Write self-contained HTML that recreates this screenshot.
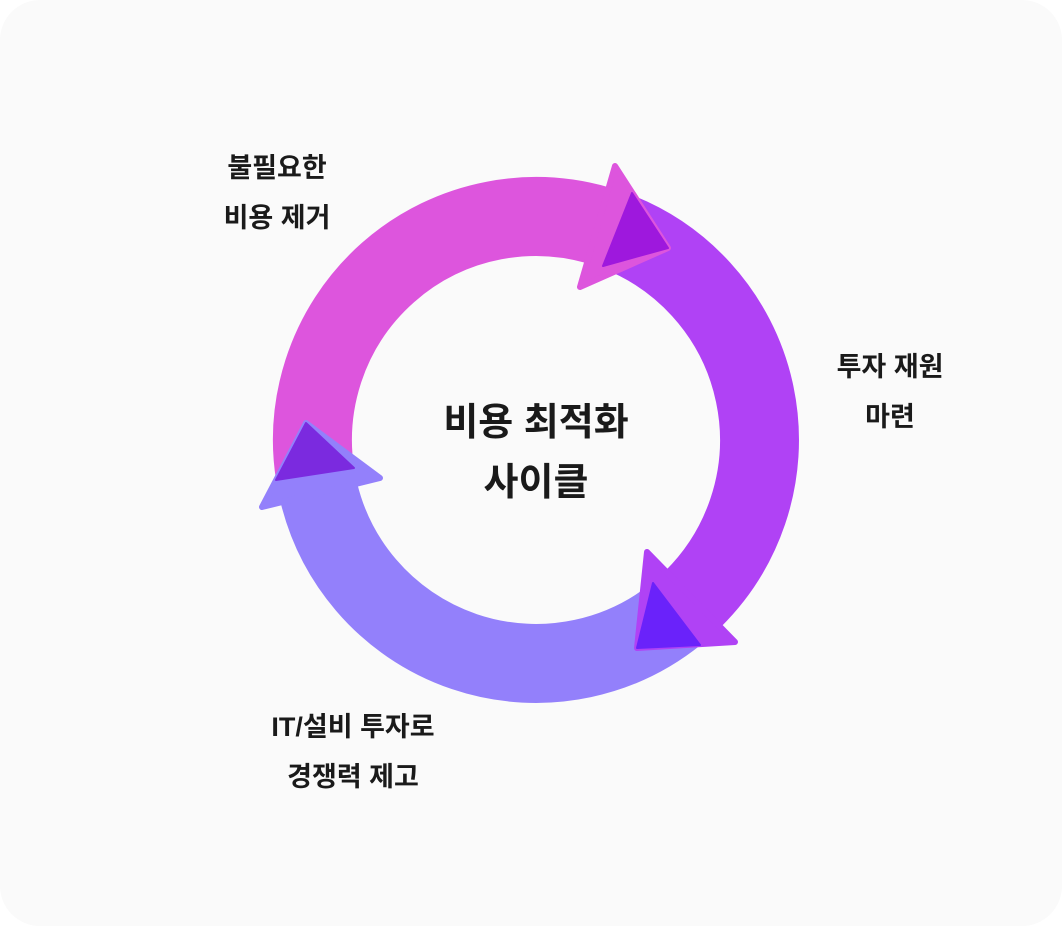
<!DOCTYPE html>
<html><head><meta charset="utf-8"><style>
html,body{margin:0;padding:0;background:#fff;}
.wrap{position:relative;width:1062px;height:926px;background:#fafafa;border-radius:40px;overflow:hidden;}
.t{position:absolute;font-family:"Liberation Sans","Noto Sans CJK KR",sans-serif;color:#1a1a1a;text-align:center;font-weight:700;}
.s{font-size:27px;line-height:50px;width:300px;}
.c{font-size:38px;line-height:60px;width:400px;}
svg{position:absolute;left:0;top:0;}
</style></head><body><div class="wrap">
<svg width="1062" height="926" viewBox="0 0 1062 926">
<g fill="none" stroke-width="79">
<path d="M315.2 475.0 A223.5 223.5 0 0 1 597.6 225.2" stroke="#dd55dd"/>
<path d="M616.1 231.3 A223.5 223.5 0 0 1 692.9 599.1" stroke="#b042f5"/>
<path d="M676.6 613.7 A223.5 223.5 0 0 1 318.8 492.5" stroke="#9380fb"/>
</g>
<g stroke-linejoin="round" stroke-width="6">
<polygon points="615,166 668,248 580,287" fill="#dd55dd" stroke="#dd55dd"/>
<polygon points="647,552 735,642 637,648" fill="#b042f5" stroke="#b042f5"/>
<polygon points="380,478 262,507 306,423" fill="#9380fb" stroke="#9380fb"/>
<polygon points="632,193 668,248 603,266" fill="#9e18dd" stroke="#9e18dd" stroke-width="2"/>
<polygon points="653,583 700,645 637,648" fill="#6a22fa" stroke="#6a22fa" stroke-width="2"/>
<polygon points="306,423 354,468 276,480" fill="#7b2adf" stroke="#7b2adf" stroke-width="2"/>
</g>
</svg>
<div class="t s" style="left:127px;top:143px;">불필요한<br>비용 제거</div>
<div class="t s" style="left:740px;top:342px;">투자 재원<br>마련</div>
<div class="t s" style="left:203px;top:702px;">IT/설비 투자로<br>경쟁력 제고</div>
<div class="t c" style="left:336px;top:393px;">비용 최적화<br>사이클</div>
</div></body></html>
